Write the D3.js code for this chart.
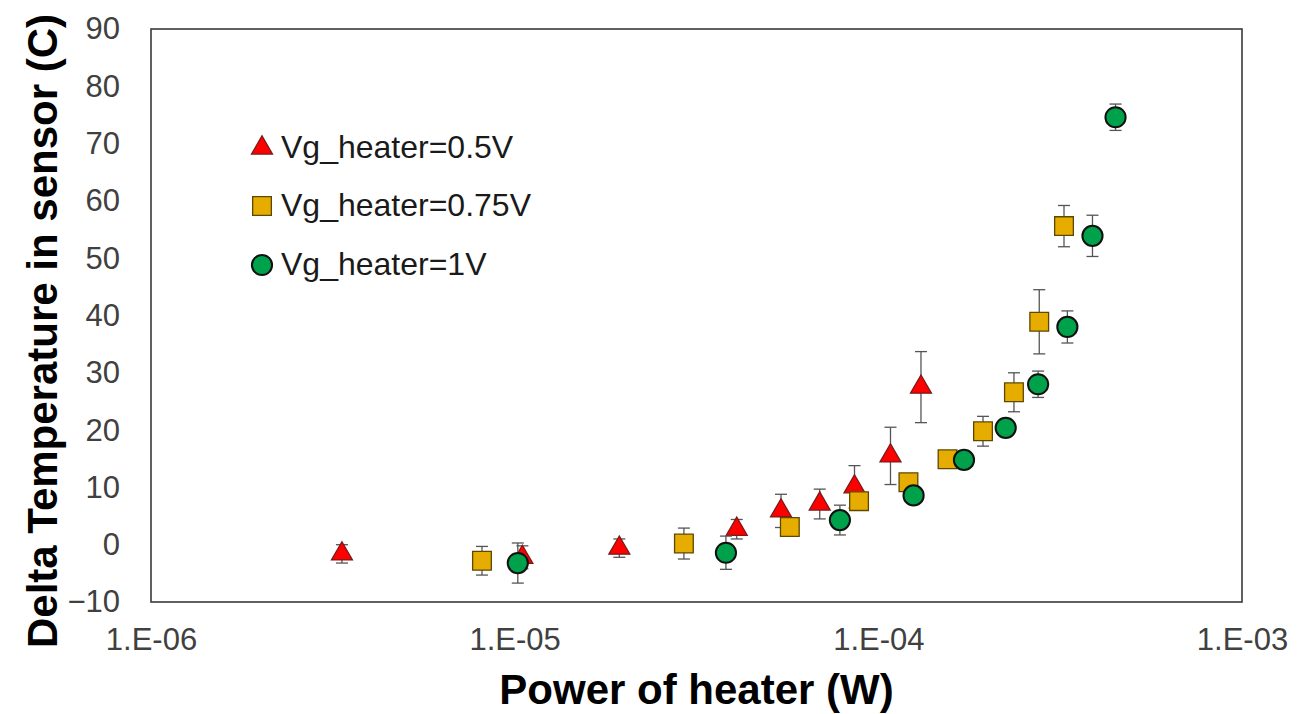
<!DOCTYPE html>
<meta charset="utf-8">
<style>
  body { margin: 0; background: #fff; }
  text { font-family: "Liberation Sans", Arial, sans-serif; }
</style>
<body>
<script src="https://d3js.org/d3.v7.min.js"></script>
<script>

var width = 1297,
    height = 714;

// data (power in W, delta T in C, error +/-)
var redX = [3.35e-6, 1.05e-5, 1.94e-5, 4.08e-5, 5.4e-5, 6.9e-5, 8.6e-5, 1.08e-4, 1.31e-4],
    redY = [-1.6, -2.2, -0.6, 2.7, 5.9, 7.1, 10.1, 15.5, 27.5],
    redErr = [1.6, 2.0, 1.6, 1.7, 2.9, 2.6, 3.7, 5.0, 6.2];

var orangeX = [8.13e-6, 2.92e-5, 5.71e-5, 8.85e-5, 1.21e-4, 1.55e-4, 1.94e-4, 2.36e-4, 2.77e-4, 3.24e-4],
    orangeY = [-2.8, 0.2, 3.1, 7.6, 10.9, 14.9, 19.8, 26.6, 38.9, 55.6],
    orangeErr = [2.5, 2.7, 0.5, 0.5, 0.5, 0.3, 2.6, 3.4, 5.6, 3.6];

var greenX = [1.02e-5, 3.81e-5, 7.84e-5, 1.25e-4, 1.72e-4, 2.24e-4, 2.75e-4, 3.31e-4, 3.88e-4, 4.49e-4],
    greenY = [-3.2, -1.4, 4.3, 8.6, 14.8, 20.4, 28.0, 38.0, 53.9, 74.6],
    greenErr = [3.5, 2.9, 2.6, 0.5, 0.5, 0.5, 2.3, 2.8, 3.6, 2.3];

var seriesNames = ["Vg_heater=0.5V", "Vg_heater=0.75V", "Vg_heater=1V"];
var xTicks = [1e-6, 1e-5, 1e-4, 1e-3],
    xTickLabels = ["1.E-06", "1.E-05", "1.E-04", "1.E-03"];
var yTicks = [-10, 0, 10, 20, 30, 40, 50, 60, 70, 80, 90];

var series = [
  {name: seriesNames[0], xs: redX, ys: redY, err: redErr, shape: d3.symbolTriangle, size: 190, fill: "#ff0000", stroke: "#7a1a1a"},
  {name: seriesNames[1], xs: orangeX, ys: orangeY, err: orangeErr, shape: d3.symbolSquare, size: 350, fill: "#e6ad00", stroke: "#5c4800"},
  {name: seriesNames[2], xs: greenX, ys: greenY, err: greenErr, shape: d3.symbolCircle, size: 320, fill: "#00a14b", stroke: "#111"}
];

var margin = {left: 151, right: 55, top: 29, bottom: 112};

var svg = d3.select("body").append("svg")
    .attr("width", width)
    .attr("height", height);

svg.append("rect").attr("width", width).attr("height", height).attr("fill", "#fff");

var x = d3.scaleLog()
    .domain([1e-6, 1e-3])
    .range([margin.left, width - margin.right]);

var y = d3.scaleLinear()
    .domain([-10, 90])
    .range([height - margin.bottom, margin.top]);

// plot frame
svg.append("rect")
    .attr("x", x.range()[0])
    .attr("y", y.range()[1])
    .attr("width", x.range()[1] - x.range()[0])
    .attr("height", y.range()[0] - y.range()[1])
    .attr("fill", "none")
    .attr("stroke", "#3a3a3a")
    .attr("stroke-width", 1.6);

var xAxis = svg.append("g")
    .attr("transform", "translate(0," + y.range()[0] + ")")
    .call(d3.axisBottom(x).tickValues(xTicks).tickSize(0).tickPadding(26)
        .tickFormat((d, i) => xTickLabels[i]));

var yAxis = svg.append("g")
    .attr("transform", "translate(" + x.range()[0] + ",0)")
    .call(d3.axisLeft(y).tickValues(yTicks).tickSize(0).tickPadding(31));

[xAxis, yAxis].forEach(function(g) {
  g.select(".domain").remove();
  g.selectAll("text")
      .attr("fill", "#404040")
      .style("font-size", "31px");
});

// axis titles
svg.append("text")
    .attr("x", (x.range()[0] + x.range()[1]) / 2 + 0)
    .attr("y", 704)
    .attr("text-anchor", "middle")
    .style("font-size", "42px")
    .style("font-weight", "bold")
    .attr("fill", "#000")
    .text("Power of heater (W)");

svg.append("text")
    .attr("transform", "translate(57,331) rotate(-90)")
    .attr("text-anchor", "middle")
    .style("font-size", "42px")
    .style("font-weight", "bold")
    .attr("fill", "#000")
    .text("Delta Temperature in sensor (C)");

// series: error bars then markers
series.forEach(function(s) {
  var pts = s.xs.map((v, i) => ({x: v, y: s.ys[i], e: s.err[i]}));
  var g = svg.append("g");

  var eb = g.selectAll(".eb").data(pts).enter().append("g")
      .attr("stroke", "#555")
      .attr("stroke-width", 1.3);
  eb.append("line")
      .attr("x1", d => x(d.x)).attr("x2", d => x(d.x))
      .attr("y1", d => y(d.y + d.e)).attr("y2", d => y(d.y - d.e));
  eb.append("line")
      .attr("x1", d => x(d.x) - 6).attr("x2", d => x(d.x) + 6)
      .attr("y1", d => y(d.y + d.e)).attr("y2", d => y(d.y + d.e));
  eb.append("line")
      .attr("x1", d => x(d.x) - 6).attr("x2", d => x(d.x) + 6)
      .attr("y1", d => y(d.y - d.e)).attr("y2", d => y(d.y - d.e));

  g.selectAll(".pt").data(pts).enter().append("path")
      .attr("d", d3.symbol().type(s.shape).size(s.size))
      .attr("transform", d => "translate(" + x(d.x) + "," + y(d.y) + ")")
      .attr("fill", s.fill)
      .attr("stroke", s.stroke)
      .attr("stroke-width", s.shape === d3.symbolCircle ? 2 : 1.3);
});

// legend
var legend = svg.append("g").attr("transform", "translate(262,0)");
var legendY = [148, 206, 265];
series.forEach(function(s, i) {
  legend.append("path")
      .attr("d", d3.symbol().type(s.shape).size(s.size))
      .attr("transform", "translate(0," + legendY[i] + ")")
      .attr("fill", s.fill)
      .attr("stroke", s.stroke)
      .attr("stroke-width", s.shape === d3.symbolCircle ? 2 : 1.3);
  legend.append("text")
      .attr("x", 19)
      .attr("y", legendY[i] + 10)
      .style("font-size", "32px")
      .attr("fill", "#1a1a1a")
      .text(s.name);
});

</script>
</body>
